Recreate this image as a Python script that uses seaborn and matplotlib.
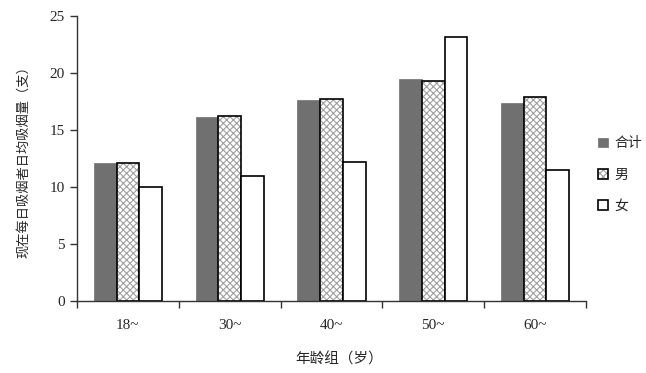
import matplotlib
matplotlib.use('Agg')
import matplotlib.pyplot as plt
import seaborn as sns
import pandas as pd
from matplotlib.patches import Patch
from matplotlib.colors import to_rgba

age_groups = ['18~', '30~', '40~', '50~', '60~']
series = ['合计', '男', '女']
total = [12.1, 16.1, 17.6, 19.5, 17.4]
male = [12.1, 16.2, 17.7, 19.3, 17.9]
female = [10.0, 11.0, 12.2, 23.2, 11.5]
y_ticks = [0, 5, 10, 15, 20, 25]

df = pd.DataFrame({
    'age': age_groups * 3,
    'sex': [s for s in series for _ in age_groups],
    'value': total + male + female,
})

sns.set_style('white')
plt.rcParams['font.family'] = ['Liberation Serif', 'Noto Sans CJK SC']
plt.rcParams['hatch.linewidth'] = 0.8

fig = plt.figure(figsize=(6.46, 3.73), dpi=100)
ax = fig.add_axes([77/646, 1-301/373, (586-77)/646, (301-16)/373])

sns.barplot(data=df, x='age', y='value', hue='sex', hue_order=series,
            palette=['#707070', 'white', 'white'], width=0.67, gap=0,
            saturation=1, errorbar=None, legend=False, ax=ax)

hatch_col = to_rgba('#a0a0a0')
for i, cont in enumerate(ax.containers):
    for p in cont:
        if i == 0:
            p.set_facecolor('#707070')
            p.set_edgecolor('#707070')
            p.set_linewidth(0.5)
        elif i == 1:
            p.set_facecolor('white')
            p.set_hatch('xxxxx')
            p.set_edgecolor('black')
            p._hatch_color = hatch_col
            p.set_linewidth(1.2)
        else:
            p.set_facecolor('white')
            p.set_edgecolor('black')
            p.set_linewidth(1.2)

ax.set_xlim(-0.5, len(age_groups) - 0.5)
ax.set_ylim(0, 25)
ax.set_yticks(y_ticks)
ax.set_yticklabels([str(t) for t in y_ticks], fontsize=11)
ax.set_xticks(range(len(age_groups)))
ax.set_xticklabels(age_groups, fontsize=11)
ax.set_xticks([i - 0.5 for i in range(len(age_groups) + 1)], minor=True)
ax.tick_params(axis='x', which='major', bottom=True, length=0, pad=13)
ax.tick_params(axis='x', which='minor', bottom=True, length=5, direction='out', width=1, color='#333333')
ax.tick_params(axis='y', left=True, length=5, direction='out', width=1, color='#333333', pad=4)
for s in ['top', 'right']:
    ax.spines[s].set_visible(False)
for s in ['left', 'bottom']:
    ax.spines[s].set_color('#333333')
    ax.spines[s].set_linewidth(1)

ax.set_xlabel('年龄组（岁）', fontsize=10.5)
ax.xaxis.set_label_coords(0.515, -0.18)
ax.set_ylabel('现在每日吸烟者日均吸烟量（支）', fontsize=9.5)
ax.yaxis.set_label_coords(-0.093, 0.5)
ax.grid(False)

handles = [
    Patch(facecolor='#707070', edgecolor='#707070', linewidth=0.5),
    Patch(facecolor='white', edgecolor='black', hatch='xxxxx', linewidth=1.2),
    Patch(facecolor='white', edgecolor='black', linewidth=1.2),
]
handles[1]._hatch_color = hatch_col
fig.legend(handles, series, loc='center left', bbox_to_anchor=(598/646, 1-175/373),
           frameon=False, handlelength=0.7, handleheight=0.7, handletextpad=0.5,
           labelspacing=1.3, borderaxespad=0, borderpad=0, fontsize=10)

fig.savefig('out.png', dpi=100)
